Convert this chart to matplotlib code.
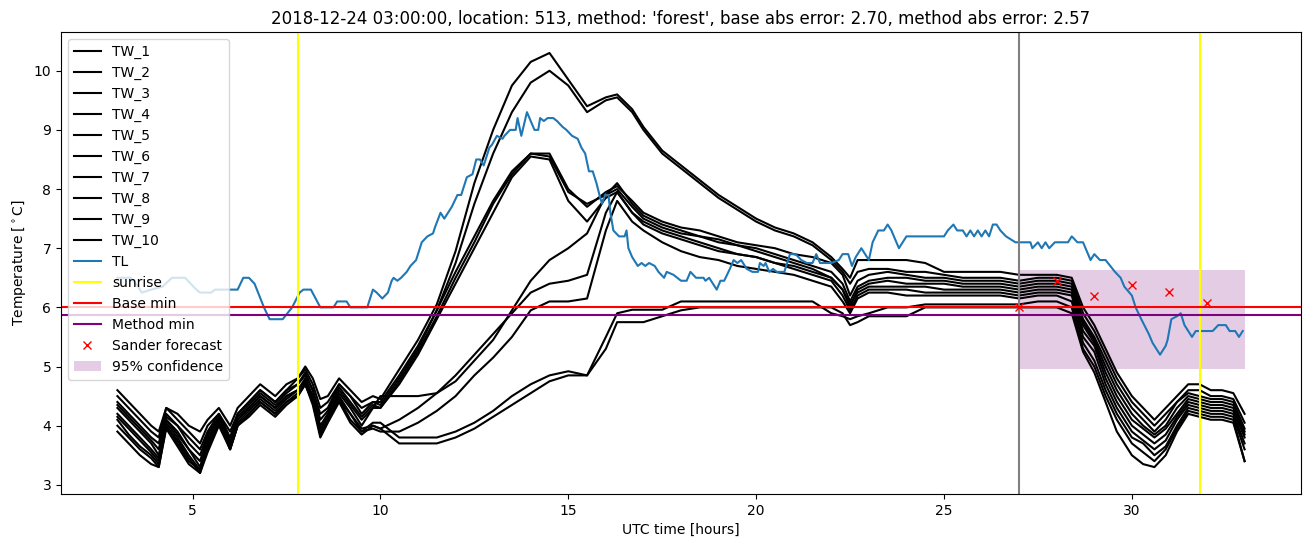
import numpy as np
import matplotlib
matplotlib.use('Agg')
import matplotlib.pyplot as plt

# common time grid for the TW sensors (hours UTC)
T = [3.0, 3.3, 3.6, 3.9, 4.1, 4.3, 4.6, 4.9, 5.2, 5.4,
     5.7, 6.0, 6.2, 6.5, 6.8, 7.2, 7.5, 7.8, 8.0, 8.2,
     8.4, 8.6, 8.9, 9.2, 9.5, 9.8, 10.0, 10.5, 11.0, 11.5,
     12.0, 12.5, 13.0, 13.5, 14.0, 14.5, 15.0, 15.5, 16.0, 16.3,
     16.7, 17.0, 17.5, 18.0, 18.5, 19.0, 19.5, 20.0, 20.5, 21.0,
     21.5, 22.0, 22.3, 22.5, 22.7, 23.0, 23.5, 24.0, 24.5, 25.0,
     25.5, 26.0, 26.5, 27.0, 27.5, 28.0, 28.4, 28.7, 29.0, 29.3,
     29.6, 30.0, 30.3, 30.6, 30.9, 31.2, 31.5, 31.8, 32.1, 32.4,
     32.7, 33.0]

TW_1 = [4.6, 4.4, 4.2, 4.0, 3.9, 4.3, 4.2, 4.0, 3.9, 4.1,
        4.3, 4.0, 4.3, 4.5, 4.7, 4.5, 4.7, 4.8, 5.0, 4.8,
        4.45, 4.5, 4.8, 4.6, 4.4, 4.5, 4.45, 4.95, 5.45, 6.05,
        6.95, 8.1, 9.0, 9.75, 10.15, 10.3, 9.85, 9.4, 9.55, 9.6,
        9.35, 9.05, 8.65, 8.4, 8.15, 7.9, 7.7, 7.5, 7.35, 7.25,
        7.1, 6.85, 6.65, 6.5, 6.8, 6.8, 6.8, 6.8, 6.75, 6.6,
        6.6, 6.6, 6.6, 6.55, 6.55, 6.55, 6.5, 6.0, 5.7, 5.3,
        4.9, 4.5, 4.3, 4.1, 4.3, 4.5, 4.7, 4.7, 4.6, 4.6,
        4.55, 4.2]
TW_2 = [4.5, 4.3, 4.1, 3.9, 3.8, 4.3, 4.1, 3.9, 3.7, 4.0,
        4.2, 3.9, 4.2, 4.4, 4.6, 4.4, 4.6, 4.8, 4.95, 4.7,
        4.3, 4.4, 4.7, 4.5, 4.3, 4.4, 4.4, 4.85, 5.35, 5.95,
        6.75, 7.75, 8.6, 9.3, 9.8, 10.0, 9.75, 9.3, 9.5, 9.55,
        9.3, 9.0, 8.6, 8.35, 8.1, 7.85, 7.65, 7.45, 7.3, 7.2,
        7.05, 6.8, 6.6, 6.4, 6.6, 6.65, 6.65, 6.6, 6.6, 6.55,
        6.5, 6.5, 6.5, 6.45, 6.5, 6.5, 6.45, 5.9, 5.6, 5.2,
        4.8, 4.4, 4.2, 4.0, 4.2, 4.4, 4.6, 4.6, 4.5, 4.5,
        4.45, 4.05]
TW_3 = [4.4, 4.2, 4.0, 3.8, 3.7, 4.2, 4.0, 3.8, 3.6, 3.9,
        4.2, 3.8, 4.2, 4.4, 4.6, 4.4, 4.6, 4.7, 4.9, 4.6,
        4.2, 4.3, 4.7, 4.5, 4.2, 4.4, 4.35, 4.8, 5.3, 5.95,
        6.6, 7.2, 7.8, 8.3, 8.6, 8.6, 8.0, 7.7, 7.95, 8.05,
        7.8, 7.6, 7.45, 7.35, 7.3, 7.2, 7.1, 7.05, 7.0, 6.9,
        6.85, 6.75, 6.55, 6.2, 6.45, 6.55, 6.6, 6.55, 6.5, 6.5,
        6.45, 6.45, 6.45, 6.4, 6.45, 6.45, 6.4, 5.8, 5.5, 5.1,
        4.7, 4.3, 4.1, 3.9, 4.1, 4.4, 4.55, 4.5, 4.45, 4.45,
        4.4, 3.95]
TW_4 = [4.35, 4.15, 3.95, 3.75, 3.6, 4.15, 4.0, 3.7, 3.5, 3.85,
        4.15, 3.75, 4.15, 4.35, 4.55, 4.35, 4.55, 4.7, 4.85, 4.6,
        4.1, 4.25, 4.65, 4.4, 4.15, 4.35, 4.3, 4.75, 5.25, 5.85,
        6.5, 7.1, 7.75, 8.25, 8.6, 8.55, 7.95, 7.75, 7.9, 8.0,
        7.7, 7.5, 7.35, 7.25, 7.2, 7.1, 7.05, 7.0, 6.9, 6.8,
        6.7, 6.6, 6.4, 6.1, 6.35, 6.45, 6.5, 6.5, 6.45, 6.45,
        6.4, 6.4, 6.4, 6.35, 6.4, 6.4, 6.35, 5.75, 5.45, 5.0,
        4.6, 4.2, 4.0, 3.85, 4.0, 4.3, 4.5, 4.45, 4.4, 4.4,
        4.35, 3.9]
TW_5 = [4.3, 4.1, 3.9, 3.7, 3.5, 4.1, 3.9, 3.6, 3.4, 3.8,
        4.1, 3.7, 4.1, 4.3, 4.5, 4.3, 4.5, 4.6, 4.8, 4.5,
        4.0, 4.2, 4.6, 4.35, 4.1, 4.3, 4.3, 4.7, 5.2, 5.8,
        6.4, 7.0, 7.6, 8.2, 8.55, 8.5, 7.8, 7.45, 7.85, 7.95,
        7.6, 7.4, 7.25, 7.15, 7.05, 6.95, 6.9, 6.85, 6.75, 6.7,
        6.6, 6.5, 6.3, 6.0, 6.3, 6.4, 6.45, 6.4, 6.4, 6.4,
        6.35, 6.35, 6.35, 6.3, 6.35, 6.35, 6.3, 5.7, 5.4, 4.9,
        4.5, 4.1, 3.95, 3.8, 3.95, 4.2, 4.45, 4.4, 4.35, 4.35,
        4.3, 3.85]
TW_6 = [4.2, 4.0, 3.8, 3.6, 3.45, 4.1, 3.85, 3.6, 3.3, 3.75,
        4.1, 3.7, 4.1, 4.3, 4.5, 4.3, 4.5, 4.6, 4.75, 4.5,
        3.95, 4.15, 4.55, 4.3, 4.0, 4.3, 4.5, 4.5, 4.5, 4.55,
        4.75, 5.1, 5.45, 5.95, 6.45, 6.8, 7.0, 7.25, 7.9, 8.1,
        7.75, 7.55, 7.4, 7.3, 7.2, 7.15, 7.05, 6.95, 6.85, 6.75,
        6.65, 6.5, 6.3, 6.05, 6.25, 6.35, 6.35, 6.35, 6.35, 6.3,
        6.3, 6.3, 6.3, 6.25, 6.3, 6.3, 6.25, 5.6, 5.35, 4.8,
        4.4, 4.0, 3.85, 3.7, 3.85, 4.15, 4.4, 4.35, 4.3, 4.3,
        4.25, 3.8]
TW_7 = [4.15, 3.95, 3.75, 3.55, 3.4, 4.05, 3.8, 3.5, 3.25, 3.7,
        4.05, 3.65, 4.05, 4.25, 4.45, 4.25, 4.45, 4.6, 4.75, 4.45,
        3.9, 4.1, 4.5, 4.2, 3.95, 4.0, 3.95, 4.1, 4.3, 4.55,
        4.85, 5.2, 5.55, 5.9, 6.25, 6.4, 6.45, 6.55, 7.6, 7.95,
        7.6, 7.45, 7.3, 7.2, 7.1, 7.0, 6.9, 6.85, 6.75, 6.65,
        6.55, 6.45, 6.2, 5.95, 6.2, 6.3, 6.3, 6.3, 6.25, 6.25,
        6.25, 6.25, 6.25, 6.2, 6.25, 6.25, 6.2, 5.5, 5.25, 4.7,
        4.3, 3.9, 3.75, 3.6, 3.75, 4.1, 4.35, 4.3, 4.25, 4.25,
        4.2, 3.7]
TW_8 = [4.1, 3.85, 3.65, 3.5, 3.35, 4.0, 3.75, 3.45, 3.2, 3.65,
        4.1, 3.6, 4.0, 4.2, 4.4, 4.2, 4.4, 4.55, 4.7, 4.4,
        3.85, 4.1, 4.45, 4.2, 3.9, 3.95, 3.9, 3.9, 4.05, 4.25,
        4.5, 4.85, 5.15, 5.5, 5.95, 6.1, 6.1, 6.15, 7.3, 7.8,
        7.45, 7.3, 7.1, 6.95, 6.85, 6.8, 6.7, 6.65, 6.6, 6.55,
        6.45, 6.35, 6.1, 5.9, 6.15, 6.25, 6.25, 6.2, 6.2, 6.2,
        6.2, 6.2, 6.2, 6.15, 6.2, 6.2, 6.1, 5.4, 5.1, 4.6,
        4.2, 3.8, 3.7, 3.5, 3.65, 4.0, 4.3, 4.25, 4.2, 4.2,
        4.15, 3.6]
TW_9 = [4.0, 3.8, 3.6, 3.45, 3.3, 4.0, 3.7, 3.4, 3.25, 3.6,
        4.05, 3.6, 4.0, 4.2, 4.4, 4.2, 4.4, 4.5, 4.7, 4.4,
        3.85, 4.1, 4.45, 4.1, 3.9, 4.05, 4.05, 3.8, 3.8, 3.8,
        3.9, 4.05, 4.25, 4.5, 4.7, 4.85, 4.92, 4.85, 5.5, 5.9,
        5.96, 5.96, 5.96, 6.1, 6.1, 6.1, 6.1, 6.1, 6.1, 6.1,
        6.1, 5.9, 5.85, 5.8, 5.85, 5.9, 6.0, 6.0, 6.05, 6.05,
        6.05, 6.05, 6.05, 6.05, 6.1, 6.1, 6.0, 5.3, 5.0, 4.5,
        4.1, 3.7, 3.55, 3.4, 3.6, 3.95, 4.25, 4.2, 4.15, 4.15,
        4.1, 3.4]
TW_10 = [3.9, 3.7, 3.5, 3.35, 3.3, 3.95, 3.65, 3.35, 3.2, 3.55,
         4.0, 3.6, 4.0, 4.15, 4.35, 4.15, 4.35, 4.5, 4.7, 4.35,
         3.8, 4.05, 4.4, 4.05, 3.85, 4.0, 3.95, 3.7, 3.7, 3.7,
         3.8, 3.95, 4.15, 4.35, 4.55, 4.75, 4.85, 4.85, 5.3, 5.75,
         5.75, 5.75, 5.85, 5.95, 6.0, 6.0, 6.0, 6.0, 6.0, 6.0,
         6.0, 6.0, 5.9, 5.7, 5.75, 5.85, 5.85, 5.85, 6.0, 6.0,
         6.0, 6.0, 6.0, 6.0, 6.0, 6.0, 5.9, 5.25, 4.9, 4.4,
         3.9, 3.5, 3.35, 3.3, 3.5, 3.9, 4.2, 4.15, 4.1, 4.1,
         4.05, 3.4]

# air temperature
TL_T = [3.0, 3.35, 3.55, 3.65, 3.9, 4.2, 4.45, 4.8, 4.95, 5.1, 5.2, 5.5, 5.6, 6.0, 6.2,
        6.35, 6.5, 6.65, 6.9, 7.05, 7.4, 7.65, 7.85, 7.95, 8.15, 8.4, 8.75, 8.85, 9.1,
        9.2, 9.65, 9.8, 9.9, 10.05, 10.2, 10.3, 10.35, 10.45, 10.55, 10.7, 10.8, 10.95,
        11.0, 11.1, 11.25, 11.4, 11.45, 11.6, 11.7, 11.9, 12.05, 12.15, 12.3, 12.45,
        12.55, 12.65, 12.75, 12.9, 12.97, 13.1, 13.25, 13.3, 13.45, 13.6, 13.65, 13.75,
        13.9, 14.0, 14.1, 14.2, 14.25, 14.35, 14.45, 14.6, 14.7, 14.85, 14.95, 15.1,
        15.25, 15.35, 15.45, 15.55, 15.65, 15.75, 15.85, 15.9, 15.98, 16.07, 16.12,
        16.2, 16.35, 16.5, 16.55, 16.6, 16.7, 16.85, 16.95, 17.05, 17.15, 17.3, 17.4,
        17.55, 17.62, 17.8, 18.0, 18.15, 18.25, 18.4, 18.6, 18.65, 18.75, 18.85, 18.95,
        19.05, 19.15, 19.3, 19.4, 19.5, 19.6, 19.75, 19.9, 20.05, 20.1, 20.2, 20.25,
        20.35, 20.45, 20.55, 20.75, 20.9, 21.05, 21.2, 21.35, 21.5, 21.6, 21.7, 22.0,
        22.2, 22.3, 22.45, 22.55, 22.65, 22.8, 22.9, 23.0, 23.1, 23.25, 23.4, 23.5,
        23.6, 23.7, 23.8, 24.0, 25.0, 25.1, 25.25, 25.35, 25.5, 25.6, 25.7, 25.8, 25.9,
        26.0, 26.1, 26.2, 26.3, 26.4, 26.5, 26.65, 26.9, 27.3, 27.35, 27.5, 27.6, 27.7,
        27.8, 27.95, 28.3, 28.4, 28.55, 28.7, 28.9, 29.0, 29.15, 29.3, 29.55, 29.7,
        29.8, 30.0, 30.1, 30.25, 30.45, 30.55, 30.75, 30.9, 30.95, 31.05, 31.2, 31.3,
        31.4, 31.6, 31.7, 32.15, 32.3, 32.5, 32.6, 32.75, 32.85, 32.95]
TL_V = [6.5, 6.5, 6.35, 6.25, 6.3, 6.35, 6.5, 6.5, 6.4, 6.3, 6.25, 6.25, 6.3, 6.3, 6.3,
        6.5, 6.5, 6.4, 6.0, 5.8, 5.8, 6.0, 6.25, 6.3, 6.3, 6.0, 6.0, 6.1, 6.1,
        6.0, 6.0, 6.3, 6.25, 6.15, 6.25, 6.45, 6.5, 6.45, 6.5, 6.6, 6.7, 6.8,
        6.9, 7.1, 7.2, 7.25, 7.35, 7.6, 7.5, 7.7, 7.9, 7.9, 8.2, 8.25,
        8.5, 8.5, 8.4, 8.7, 8.75, 8.9, 8.85, 8.9, 9.0, 9.0, 9.2, 8.9,
        9.3, 9.15, 9.0, 9.0, 9.2, 9.15, 9.2, 9.2, 9.15, 9.05, 9.0, 8.9,
        8.85, 8.7, 8.6, 8.3, 8.3, 8.1, 7.85, 7.75, 7.9, 7.9, 7.6,
        7.3, 7.2, 7.2, 7.3, 7.0, 6.85, 6.7, 6.75, 6.7, 6.75, 6.7, 6.6,
        6.5, 6.6, 6.55, 6.45, 6.45, 6.6, 6.5, 6.5, 6.45, 6.5, 6.4, 6.3,
        6.45, 6.45, 6.65, 6.8, 6.75, 6.8, 6.65, 6.6, 6.6, 6.75, 6.7, 6.75,
        6.6, 6.65, 6.6, 6.6, 6.9, 6.9, 6.8, 6.75, 6.75, 6.9, 6.75, 6.75,
        6.8, 6.9, 6.9, 6.7, 6.85, 7.0, 6.9, 6.8, 7.1, 7.3, 7.3, 7.4,
        7.3, 7.15, 7.0, 7.2, 7.2, 7.3, 7.4, 7.3, 7.3, 7.2, 7.3, 7.2, 7.3,
        7.2, 7.3, 7.2, 7.4, 7.4, 7.3, 7.2, 7.1, 7.1, 7.0, 7.1, 7.0, 7.1,
        7.0, 7.1, 7.1, 7.2, 7.1, 7.1, 6.8, 6.9, 6.8, 6.8, 6.6, 6.5,
        6.35, 6.2, 6.0, 5.8, 5.55, 5.4, 5.2, 5.35, 5.45, 5.8, 5.85, 5.9,
        5.7, 5.5, 5.6, 5.6, 5.7, 5.7, 5.6, 5.6, 5.5, 5.6]

SUNRISE = [7.8, 31.8]
FORECAST_START = 27.0
BASE_MIN = 6.0
METHOD_MIN = 5.87
SANDER_T = [27, 28, 29, 30, 31, 32]
SANDER_V = [6.0, 6.45, 6.2, 6.38, 6.26, 6.08]
CONF_T = [27.0, 33.0]
CONF_LO = [4.95, 4.95]
CONF_HI = [6.63, 6.63]

TITLE = ("2018-12-24 03:00:00, location: 513, method: 'forest', "
         "base abs error: 2.70, method abs error: 2.57")


def main():
    fig = plt.figure(figsize=(13.1, 5.47), dpi=100)
    ax = fig.add_axes([0.0466, 0.0969, 0.9465, 0.8446])

    tw = [TW_1, TW_2, TW_3, TW_4, TW_5, TW_6, TW_7, TW_8, TW_9, TW_10]
    for i, vals in enumerate(tw):
        ax.plot(T, vals, color='black', label='TW_%d' % (i + 1))
    ax.plot(TL_T, TL_V, label='TL')

    ax.axvline(SUNRISE[0], color='yellow', label='sunrise')
    ax.axvline(SUNRISE[1], color='yellow')
    ax.axvline(FORECAST_START, color='grey')
    ax.axhline(BASE_MIN, color='red', label='Base min')
    ax.axhline(METHOD_MIN, color='purple', label='Method min')
    ax.plot(SANDER_T, SANDER_V, 'rx', label='Sander forecast')
    ax.fill_between(CONF_T, CONF_LO, CONF_HI, color='purple', alpha=0.2,
                    linewidth=0, label='95% confidence')

    ax.set_title(TITLE)
    ax.set_xlabel('UTC time [hours]')
    ax.set_ylabel(r'Temperature [$^\circ$C]')
    ax.legend(loc='upper left')

    fig.savefig('out.png', dpi=100)


if __name__ == '__main__':
    main()
